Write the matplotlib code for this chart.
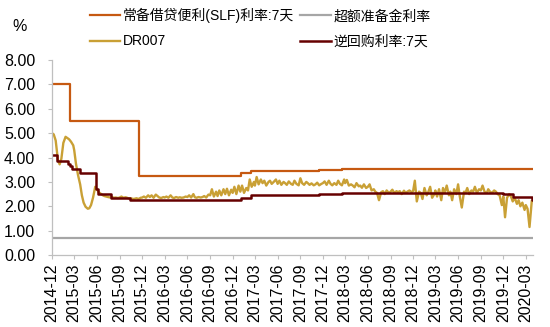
import pandas as pd
import matplotlib.pyplot as plt
import matplotlib.dates as mdates

plt.rcParams['font.family'] = ['Liberation Sans', 'Noto Sans CJK SC', 'DejaVu Sans']

# SLF 7-day rate (step changes)
slf_dates = ['2014-12-01', '2015-02-10', '2015-11-20', '2017-01-05', '2017-02-13',
             '2017-11-15', '2018-02-17', '2020-03-31']
slf_rates = [7.00, 5.50, 3.25, 3.35, 3.45, 3.50, 3.55, 3.55]

# 7-day reverse repo rate (step changes)
repo_dates = ['2014-12-01', '2014-12-22', '2015-02-04', '2015-02-12', '2015-02-20',
              '2015-03-24', '2015-05-29', '2015-06-05', '2015-07-27', '2015-10-11',
              '2017-01-05', '2017-02-13', '2017-11-15', '2018-02-17', '2019-12-01',
              '2020-01-09', '2020-03-27', '2020-03-31']
repo_rates = [4.10, 3.85, 3.75, 3.65, 3.55, 3.35, 2.70, 2.50, 2.35, 2.25,
              2.35, 2.45, 2.50, 2.55, 2.50, 2.40, 2.25, 2.25]

# excess reserve rate
ioer_dates = ['2014-12-01', '2020-03-31']
ioer_rates = [0.72, 0.72]

# DR007, four readings per month
dr_2014 = [5.00, 4.95, 4.70, 3.90]
dr_2015 = [3.72, 3.95, 4.60, 4.85,
           4.80, 4.75, 4.65, 4.50,
           4.30, 3.75, 3.30, 2.90,
           2.45, 2.15, 1.98, 1.90,
           1.92, 2.05, 2.35, 2.80,
           2.70, 2.58, 2.52, 2.45,
           2.42, 2.40, 2.38, 2.36,
           2.38, 2.35, 2.36, 2.34,
           2.36, 2.40, 2.35, 2.37,
           2.35, 2.32, 2.33, 2.30,
           2.31, 2.33, 2.30, 2.35,
           2.36, 2.40, 2.35, 2.45]
dr_2016 = [2.38, 2.45, 2.35, 2.48,
           2.42, 2.36, 2.34, 2.38,
           2.36, 2.40, 2.35, 2.45,
           2.36, 2.34, 2.38, 2.35,
           2.37, 2.35, 2.36, 2.40,
           2.38, 2.45, 2.36, 2.50,
           2.37, 2.35, 2.38, 2.36,
           2.38, 2.42, 2.36, 2.48,
           2.45, 2.70, 2.40, 2.60,
           2.42, 2.65, 2.45, 2.70,
           2.50, 2.72, 2.45, 2.68,
           2.55, 2.80, 2.50, 2.85]
dr_2017 = [2.60, 2.85, 2.55, 2.75,
           2.65, 3.10, 2.80, 3.00,
           2.85, 3.20, 2.90, 3.10,
           2.95, 3.05, 2.85, 3.00,
           3.05, 2.92, 3.00, 3.10,
           2.92, 3.05, 2.88, 3.00,
           2.95, 2.88, 3.02, 2.92,
           2.88, 3.05, 2.92, 2.86,
           3.15, 2.95, 2.88, 3.00,
           2.95, 2.88, 2.94, 2.86,
           2.90, 2.97, 2.86, 2.92,
           2.95, 3.02, 2.88, 3.05]
dr_2018 = [2.92, 2.86, 2.95, 2.88,
           3.05, 2.92, 2.86, 3.10,
           2.95, 3.08, 2.85, 2.90,
           2.85, 2.78, 2.95, 2.82,
           2.85, 2.76, 2.90, 2.75,
           2.80, 2.90, 2.65, 2.70,
           2.60, 2.55, 2.25, 2.58,
           2.62, 2.50, 2.65, 2.55,
           2.60, 2.68, 2.55, 2.62,
           2.58, 2.62, 2.50, 2.64,
           2.55, 2.60, 2.65, 2.58,
           2.62, 3.05, 2.20, 2.60]
dr_2019 = [2.55, 2.30, 2.75, 2.45,
           2.60, 2.80, 2.35, 2.50,
           2.65, 2.40, 2.70, 2.25,
           2.75, 2.55, 2.85, 2.45,
           2.60, 2.25, 2.70, 2.50,
           2.90, 2.40, 1.95, 2.60,
           2.55, 2.75, 2.50, 2.65,
           2.60, 2.80, 2.55, 2.70,
           2.65, 2.85, 2.60, 2.55,
           2.70, 2.60, 2.55, 2.65,
           2.60, 2.50, 2.45, 2.05,
           2.40, 1.55, 2.35, 2.50]
dr_2020 = [2.40, 2.20, 2.35, 2.10,
           2.25, 2.00, 2.15, 1.85,
           2.05, 1.90, 1.15, 2.20]

dr007 = dr_2014 + dr_2015 + dr_2016 + dr_2017 + dr_2018 + dr_2019 + dr_2020
months = pd.date_range('2014-12-01', '2020-03-01', freq='MS')
dr_dates = [m + pd.Timedelta(days=d) for m in months for d in (0, 7, 15, 24)]

tick_dates = pd.date_range('2014-12-01', '2020-03-01', freq='3MS')

fig = plt.figure(figsize=(5.5, 3.27), dpi=100)
ax = fig.add_axes([0.0945, 0.22, 0.875, 0.5965])

l1, = ax.plot(pd.to_datetime(slf_dates), slf_rates, drawstyle='steps-post',
              color='#C65911', lw=1.6, label='常备借贷便利(SLF)利率:7天')
l2, = ax.plot(pd.to_datetime(ioer_dates), ioer_rates, color='#A6A6A6', lw=1.6,
              label='超额准备金利率')
l3, = ax.plot(dr_dates, dr007, color='#C9A035', lw=1.7, label='DR007')
l4, = ax.plot(pd.to_datetime(repo_dates), repo_rates, drawstyle='steps-post',
              color='#660000', lw=1.8, label='逆回购利率:7天')

ax.set_xlim(pd.Timestamp('2014-12-01'), pd.Timestamp('2020-03-31'))
ax.set_ylim(0, 8)
ax.set_yticks(range(0, 9))
ax.yaxis.set_major_formatter(plt.FormatStrFormatter('%.2f'))
ax.set_xticks(tick_dates)
ax.xaxis.set_major_formatter(mdates.DateFormatter('%Y-%m'))
plt.setp(ax.get_xticklabels(), rotation=90)
ax.tick_params(labelsize=11.5, colors='#BFBFBF', labelcolor='black', length=3, width=0.8)
ax.tick_params(axis='y', pad=9)
ax.tick_params(axis='x', pad=3)

for s in ['top', 'right']:
    ax.spines[s].set_visible(False)
for s in ['left', 'bottom']:
    ax.spines[s].set_color('#BFBFBF')
    ax.spines[s].set_linewidth(0.9)

fig.legend(handles=[l1, l3, l2, l4], ncol=2, loc='upper left',
           bbox_to_anchor=(0.163, 0.975), frameon=False, fontsize=10,
           handlelength=2.2, handletextpad=0.2, columnspacing=0.45,
           labelspacing=0.8, borderpad=0, borderaxespad=0)
fig.text(0.022, 0.905, '%', fontsize=11.5)

fig.savefig('out.png', dpi=100)
